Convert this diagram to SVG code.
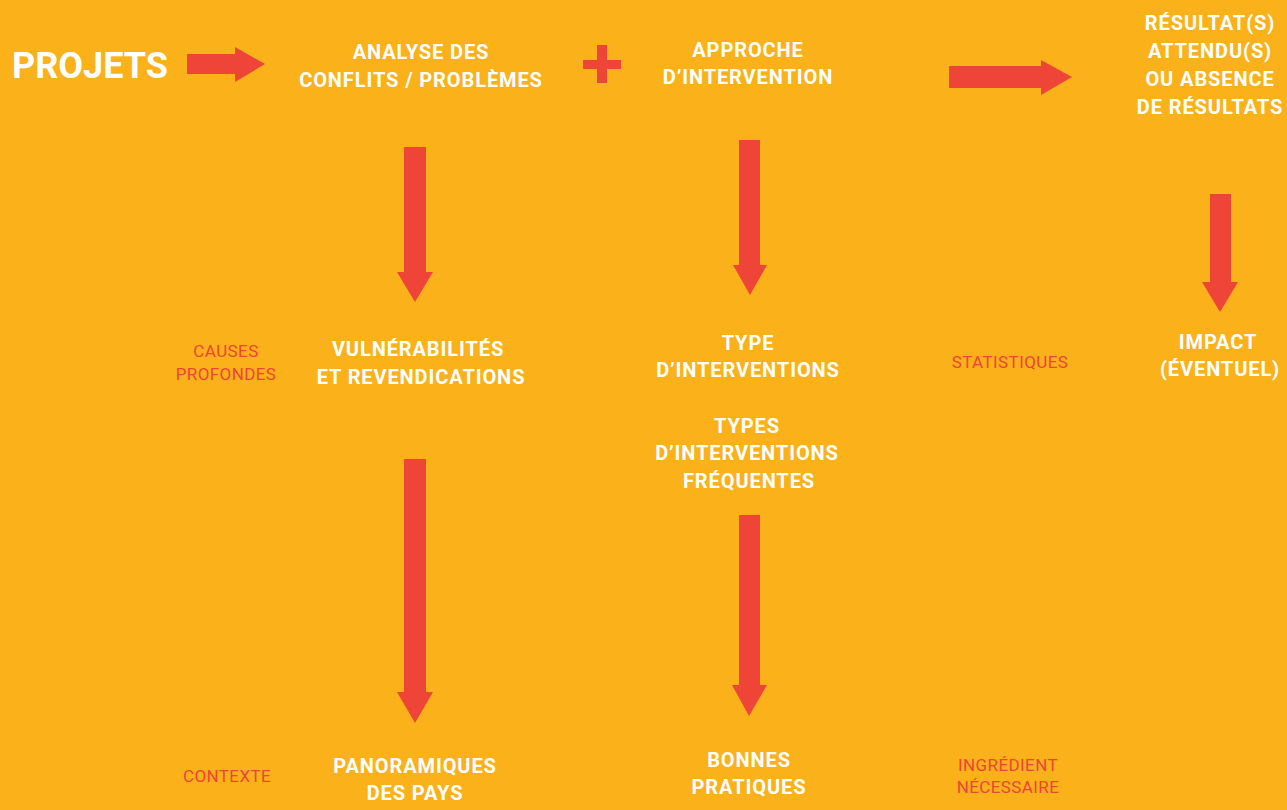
<svg xmlns="http://www.w3.org/2000/svg" width="1287" height="810" viewBox="0 0 1287 810">
<style>
.w{fill:#fff;font-family:Roboto,"Liberation Sans",sans-serif;font-weight:700;font-size:20px;letter-spacing:0.9px;text-anchor:middle}
.r{fill:#ef4438;font-family:Roboto,"Liberation Sans",sans-serif;font-weight:400;font-size:17px;letter-spacing:0.4px;text-anchor:middle}
.a{fill:#ef4438}
</style>
<rect width="1287" height="810" fill="#fbb11a"/>
<g id="projets"><text x="12" y="78" style="fill:#fff;font-family:Roboto,'Liberation Sans',sans-serif;font-weight:700;font-size:36px">PROJETS</text></g>
<g id="analyse"><text class="w" x="421" y="59">ANALYSE DES</text><text class="w" x="421" y="87">CONFLITS / PROBLÈMES</text></g>
<g id="plus" class="a"><rect x="583" y="60" width="38" height="9"/><rect x="597" y="45" width="10" height="38"/></g>
<g id="approche"><text class="w" x="748" y="57">APPROCHE</text><text class="w" x="748" y="84">D’INTERVENTION</text></g>
<g id="resultats"><text class="w" x="1210" y="30">RÉSULTAT(S)</text><text class="w" x="1210" y="58">ATTENDU(S)</text><text class="w" x="1210" y="86">OU ABSENCE</text><text class="w" x="1210" y="114">DE RÉSULTATS</text></g>
<g id="causes"><text class="r" x="226" y="357">CAUSES</text><text class="r" x="226" y="380">PROFONDES</text></g>
<g id="vulnerabilites"><text class="w" x="418" y="356">VULNÉRABILITÉS</text><text class="w" x="421" y="384">ET REVENDICATIONS</text></g>
<g id="type"><text class="w" x="748" y="350">TYPE</text><text class="w" x="748" y="377">D’INTERVENTIONS</text></g>
<g id="statistiques"><text class="r" x="1010" y="368">STATISTIQUES</text></g>
<g id="impact"><text class="w" x="1218" y="349">IMPACT</text><text class="w" x="1220" y="376">(ÉVENTUEL)</text></g>
<g id="types"><text class="w" x="747" y="433">TYPES</text><text class="w" x="747" y="460">D’INTERVENTIONS</text><text class="w" x="749" y="488">FRÉQUENTES</text></g>
<g id="contexte"><text class="r" x="227" y="782">CONTEXTE</text></g>
<g id="panoramiques"><text class="w" x="415" y="773">PANORAMIQUES</text><text class="w" x="415" y="800">DES PAYS</text></g>
<g id="bonnes"><text class="w" x="749" y="767">BONNES</text><text class="w" x="749" y="794">PRATIQUES</text></g>
<g id="ingredient"><text class="r" x="1008" y="771">INGRÉDIENT</text><text class="r" x="1008" y="793">NÉCESSAIRE</text></g>
<g id="connectors" class="a">
<polygon points="187,54 235,54 235,47 265,64 235,82 235,74 187,74"/>
<polygon points="949,66 1041,66 1041,60 1072,77 1041,95 1041,88 949,88"/>
<polygon points="404,147 426,147 426,272 433,272 415,302 397,272 404,272"/>
<polygon points="739,140 760,140 760,265 767,265 750,295 733,265 739,265"/>
<polygon points="1210,194 1231,194 1231,282 1238,282 1220,312 1202,282 1210,282"/>
<polygon points="404,459 426,459 426,692 433,692 415,723 397,692 404,692"/>
<polygon points="739,515 760,515 760,685 767,685 749,716 732,685 739,685"/>
</g>
</svg>
